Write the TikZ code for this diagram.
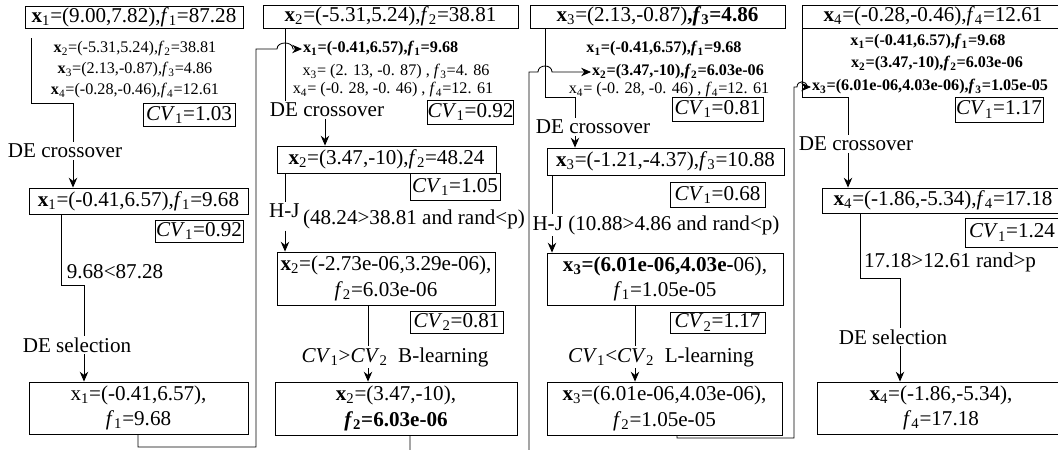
\documentclass[tikz,border=0pt]{standalone}
\usepackage{fontspec}
\setmainfont{Liberation Serif}
\usetikzlibrary{arrows.meta}

\newcommand{\vx}[1]{\textbf{x}\textsubscript{#1}}
\newcommand{\vf}[1]{\textit{f}\textsubscript{#1}}
\newcommand{\cv}[1]{\textit{CV}\textsubscript{#1}}

\begin{document}
\begin{tikzpicture}[x=0.025cm, y=-0.025cm, line width=0.6pt,
    every node/.style={font=\fontsize{15}{18}\selectfont, inner sep=1pt},
    box/.style={draw, align=center, inner sep=0pt},
    cvbox/.style={draw, inner sep=0pt},
    pop/.style={font=\fontsize{11.5}{13}\selectfont, inner sep=0.5pt},
    arr/.style={-{Stealth[length=7pt, width=6pt]}}]
      \useasboundingbox (0,0) rectangle (1058,449);
      \clip (0,0) rectangle (1058,449);

      % Individual x1
      \node[box, minimum width=5.45cm, minimum height=0.55cm] (a1) at (134,17) {\vx{1}=(9.00,7.82),\vf{1}=87.28};
      \node[pop] (l12) at (135,49) {\vx{2}=(-5.31,5.24),\vf{2}=38.81};
      \node[pop] (l13) at (135,70) {\vx{3}=(2.13,-0.87),\vf{3}=4.86};
      \node[pop] (l14) at (135,91) {\vx{4}=(-0.28,-0.46),\vf{4}=12.61};
      \node[cvbox, minimum width=2.3cm, minimum height=0.575cm] (cva1) at (189,114.5) {\cv{1}=1.03};
      \node (de1) at (65,151) {DE crossover};
      \node[box, minimum width=5.475cm, minimum height=0.65cm] (b1) at (138.5,201) {\vx{1}=(-0.41,6.57),\vf{1}=9.68};
      \node[cvbox, minimum width=2.2cm, minimum height=0.55cm] (cvb1) at (199,231) {\cv{1}=0.92};
      \node (cond1) at (115,272) {9.68<87.28};
      \node (sel1) at (77,345) {DE selection};
      \node[box, minimum width=5.475cm, minimum height=1.3cm] (c1) at (138.5,408) {x\textsubscript{1}=(-0.41,6.57),\\\vf{1}=9.68};

      \draw ([shift={(7,10)}]a1.south west) |- (73,103) -- (73,0 |- de1.north);
      \draw[arr] (73,0 |- de1.south) -- (73,0 |- b1.north);
      \draw (61,0 |- b1.south) |- (84,285) -- (84,0 |- sel1.north);
      \draw[arr] (84,0 |- sel1.south) -- (84,0 |- c1.north);

      % Individual x2
      \node[box, minimum width=6.375cm, minimum height=0.575cm] (a2) at (390.5,16.5) {\vx{2}=(-5.31,5.24),\vf{2}=38.81};
      \node[pop, anchor=west] (l21) at (302,49) {\textbf{\vx{1}=(-0.41,6.57),\vf{1}=9.68}};
      \node[pop] (l23) at (396,72) {x\textsubscript{3}= (2. 13, -0. 87) , \vf{3}=4. 86};
      \node[pop] (l24) at (393,90) {x\textsubscript{4}= (-0. 28, -0. 46) , \vf{4}=12. 61};
      \node[cvbox, minimum width=2.125cm, minimum height=0.6cm] (cva2) at (470.5,112) {\cv{1}=0.92};
      \node (de2) at (327,110) {DE crossover};
      \node[box, minimum width=5.475cm, minimum height=0.675cm] (b2) at (386.5,159.5) {\vx{2}=(3.47,-10),\vf{2}=48.24};
      \node[cvbox, minimum width=2.25cm, minimum height=0.675cm] (cvb2) at (455,186.5) {\cv{1}=1.05};
      \node (hj2) at (397,216) {\raisebox{5pt}{H-J}\,(48.24>38.81 and rand<p)};
      \node[box, minimum width=5.45cm, minimum height=1.325cm] (c2) at (386,278.5) {\vx{2}=(-2.73e-06,3.29e-06),\\\vf{2}=6.03e-06};
      \node[cvbox, minimum width=2.325cm, minimum height=0.55cm] (cvc2) at (456.5,322) {\cv{2}=0.81};
      \node (cond2) at (395,357) {\cv{1}>\cv{2}\ \ B-learning};
      \node[box, minimum width=6.05cm, minimum height=1.325cm] (d2) at (396,408.5) {\vx{2}=(3.47,-10),\\\textbf{\vf{2}=6.03e-06}};

      \draw (285,0 |- a2.south) -- (285,0 |- de2.north);
      \draw[arr] (325,0 |- de2.south) -- (325,0 |- b2.north);
      \draw (285,0 |- b2.south) -- (285,0 |- hj2.north);
      \draw[arr] (285,0 |- hj2.south) -- (285,0 |- c2.north);
      \draw (368,0 |- c2.south) -- (368,0 |- cond2.north);
      \draw[arr] (368,0 |- cond2.south) -- (368,0 |- d2.north);

      % Individual x3
      \node[box, minimum width=6.375cm, minimum height=0.575cm] (a3) at (657.5,16.5) {\vx{3}=(2.13,-0.87)\textbf{,\vf{3}=4.86}};
      \node[pop] (l31) at (664,49) {\textbf{\vx{1}=(-0.41,6.57),\vf{1}=9.68}};
      \node[pop, anchor=west] (l32) at (591,72) {\textbf{\vx{2}=(3.47,-10),\vf{2}=6.03e-06}};
      \node[pop] (l34) at (669,90) {x\textsubscript{4}= (-0. 28, -0. 46) , \vf{4}=12. 61};
      \node[cvbox, minimum width=2.275cm, minimum height=0.6cm] (cva3) at (717.5,109) {\cv{1}=0.81};
      \node (de3) at (593,127) {DE crossover};
      \node[box, minimum width=5.925cm, minimum height=0.675cm] (b3) at (665.5,161.5) {\vx{3}=(-1.21,-4.37),\vf{3}=10.88};
      \node[cvbox, minimum width=2.375cm, minimum height=0.625cm] (cvb3) at (717.5,194.5) {\cv{1}=0.68};
      \node (hj3) at (656,225) {H-J (10.88>4.86 and rand<p)};
      \node[box, minimum width=5.9cm, minimum height=1.3cm] (c3) at (665,279) {\textbf{\vx{3}=(6.01e-06,4.03e-}06),\\\vf{1}=1.05e-05};
      \node[cvbox, minimum width=2.375cm, minimum height=0.525cm] (cvc3) at (717.5,322.5) {\cv{2}=1.17};
      \node (cond3) at (661,357) {\cv{1}<\cv{2}\ \ L-learning};
      \node[box, minimum width=5.875cm, minimum height=1.325cm] (d3) at (664.5,408.5) {\vx{3}=(6.01e-06,4.03e-06),\\\vf{2}=1.05e-05};

      \draw (545,0 |- a3.south) |- (575,97) -- (575,0 |- de3.north);
      \draw[arr] (575,0 |- de3.south) -- (575,0 |- b3.north);
      \draw (552,0 |- b3.south) -- (552,0 |- hj3.north);
      \draw[arr] (552,0 |- hj3.south) -- (552,0 |- c3.north);
      \draw (635,0 |- c3.south) -- (635,0 |- cond3.north);
      \draw[arr] (635,0 |- cond3.south) -- (635,0 |- d3.north);

      % Individual x4
      \node[box, minimum width=6.55cm, minimum height=0.575cm] (a4) at (933,16.5) {\vx{4}=(-0.28,-0.46),\vf{4}=12.61};
      \node[pop] (l41) at (928,42) {\textbf{\vx{1}=(-0.41,6.57),\vf{1}=9.68}};
      \node[pop] (l42) at (937,64) {\textbf{\vx{2}=(3.47,-10),\vf{2}=6.03e-06}};
      \node[pop, anchor=west] (l43) at (811,87) {\textbf{\vx{3}=(6.01e-06,4.03e-06),\vf{3}=1.05e-05}};
      \node[cvbox, minimum width=2.2cm, minimum height=0.625cm] (cva4) at (999,109.5) {\cv{1}=1.17};
      \node (de4) at (856,144) {DE crossover};
      \node[box, minimum width=6.05cm, minimum height=0.625cm] (b4) at (943,200.5) {\vx{4}=(-1.86,-5.34),\vf{4}=17.18};
      \node[cvbox, minimum width=2.35cm, minimum height=0.725cm] (cvb4) at (1012,232.5) {\cv{1}=1.24};
      \node (cond4) at (950,262) {17.18>12.61 rand>p};
      \node (sel4) at (893,337) {DE selection};
      \node[box, minimum width=6.2cm, minimum height=1.3cm] (c4) at (941,408) {\vx{4}=(-1.86,-5.34),\\\vf{4}=17.18};

      \draw (802,0 |- a4.south) |- (848,97) -- (848,0 |- de4.north);
      \draw[arr] (848,0 |- de4.south) -- (848,0 |- b4.north);
      \draw (860,0 |- b4.south) |- (900,278) -- (900,0 |- sel4.north);
      \draw[arr] (900,0 |- sel4.south) -- (900,0 |- c4.north);

      % Best individual passed on to the next one
      \draw[arr] (138,0 |- c1.south) |- (256,447) -- (256,49) -- (277,49) .. controls (277,41) and (293,41) .. (293,49) -- (l21.west);
      \draw[arr] (410,0 |- d2.south) |- (529,470) -- (529,72) -- (538,72) .. controls (538,64) and (552,64) .. (552,72) -- (l32.west);
      \draw[arr] (677,0 |- d3.south) |- (794,438) -- (794,87) -- (797,87) .. controls (797,80) and (807,80) .. (807,87) -- (l43.west);
\end{tikzpicture}
\end{document}
